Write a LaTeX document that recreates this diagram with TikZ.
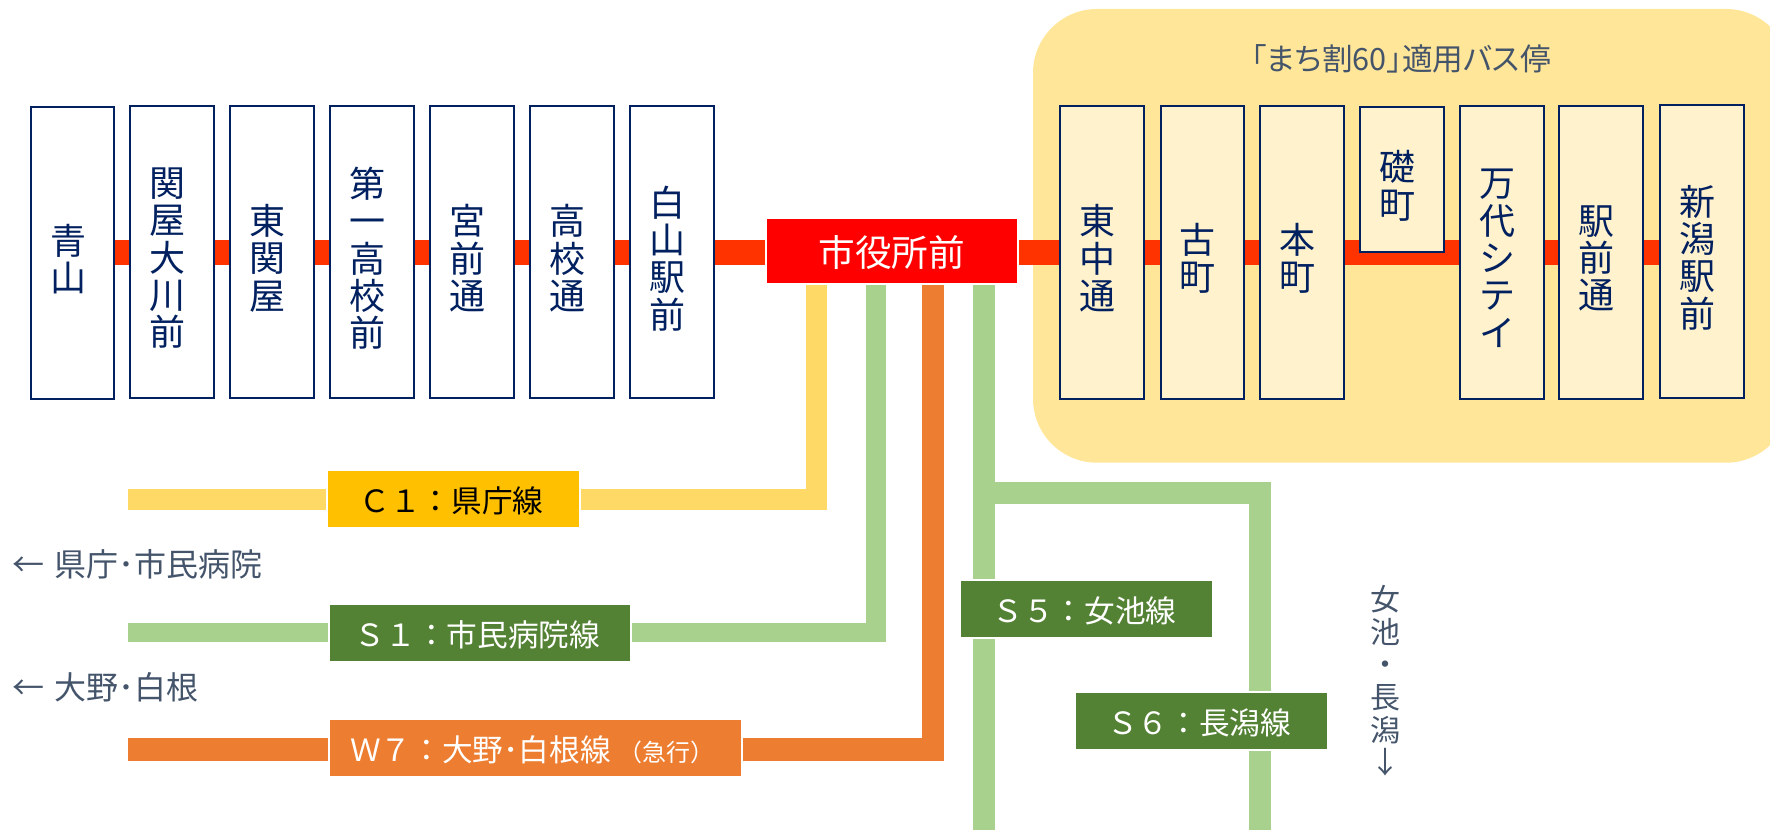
\documentclass[tikz,border=0pt]{standalone}
\usepackage{fontspec}
\newfontfamily\jpf{Noto Sans CJK JP}
\newfontfamily\jpp[RawFeature=+palt]{Noto Sans CJK JP}
\definecolor{navy}{HTML}{002060}
\definecolor{slate}{HTML}{44546A}
\definecolor{panelfill}{HTML}{FFE699}
\definecolor{stopfill}{HTML}{FFF2CC}
\definecolor{railred}{HTML}{FF3300}
\definecolor{c1light}{HTML}{FFD966}
\definecolor{c1dark}{HTML}{FFC000}
\definecolor{sgreen}{HTML}{A9D18E}
\definecolor{sdark}{HTML}{548235}
\definecolor{worange}{HTML}{ED7D31}
\pgfdeclarelayer{bg}
\pgfsetlayers{bg,main}
% vertical text: centred stack with a fixed line pitch
\newcommand\vstack[3]{\vbox{\kern#1\lineskiplimit=-100pt\baselineskip=#2\let\\=\cr\halign{\hfil##\hfil\cr#3\crcr}}}
% stations sit left of and below the centre of their box
\newcommand\vt[1]{\kern-6.75pt\vstack{9pt}{28pt}{#1}}
% label text sits a little below the centre of its box
\newcommand\lb[1]{\vbox{\kern3pt\hbox{#1}}}
\tikzset{
  stopbox/.style={draw=navy,line width=1.5pt,fill=white,inner sep=0pt,text=navy,
    minimum width=83.6*0.75pt,minimum height=292.6*0.75pt,
    font=\jpf\fontsize{27}{28}\selectfont},
  yellowstop/.style={stopbox,fill=stopfill},
  shortstop/.style={minimum height=144.5*0.75pt},
  linebox/.style={draw=white,line width=1.5pt,inner sep=0pt,minimum height=58*0.75pt,
    font=\jpf\fontsize{23}{28}\selectfont},
  sidelabel/.style={text=slate,inner sep=0pt,font=\jpf\fontsize{24}{26}\selectfont},
  rail/.style={railred,line width=18.6pt},
  c1line/.style={c1light,line width=15.5pt},
  s1line/.style={sgreen,line width=14.3pt},
  s5line/.style={sgreen,line width=16.5pt},
  w7line/.style={worange,line width=17pt}
}
\begin{document}
\begin{tikzpicture}[x=0.75pt,y=-0.75pt]
\useasboundingbox (0,0) rectangle (1770,830);
% stops, left part
\node[stopbox] (aoyama) at (72.6,253.1) {\vt{青\\山}};
\node[stopbox] (sekiya) at (171.9,252.2) {\vt{関\\屋\\大\\川\\前}};
\node[stopbox] (higashisekiya) at (271.9,252.2) {\vt{東\\関\\屋}};
\node[stopbox] (daiichi) at (371.9,252.2) {\vt{第\\一\\高\\校\\前}};
\node[stopbox] (miyamae) at (471.9,252.2) {\vt{宮\\前\\通}};
\node[stopbox] (koukou) at (571.9,252.2) {\vt{高\\校\\通}};
\node[stopbox] (hakusan) at (671.9,252.2) {\vt{白\\山\\駅\\前}};
% central stop
\node[draw=white,line width=1.5pt,fill=red,text=white,inner sep=0pt,minimum width=251.6*0.75pt,minimum height=65.2*0.75pt,font=\jpf\fontsize{27.5}{30}\selectfont] (shi) at (891.8,251.1) {\vbox{\kern1.5pt\hbox{市役所前}}};
% stops, right part
\node[yellowstop] (higashinaka) at (1102,252.4) {\vt{東\\中\\通}};
\node[yellowstop] (furu) at (1202.4,252.4) {\vt{古\\町}};
\node[yellowstop] (hon) at (1302.1,252.4) {\vt{本\\町}};
\node[yellowstop,shortstop] (iso) at (1402.2,179.7) {\vt{礎\\町}};
\node[yellowstop] (bandai) at (1501.7,252.4) {\vt{万\\代\\シ\\テ\\イ}};
\node[yellowstop] (ekimae) at (1600.9,252.4) {\vt{駅\\前\\通}};
\node[yellowstop] (niigata) at (1701.7,251.4) {\vt{新\\潟\\駅\\前}};
% line labels
\node[linebox,fill=c1dark,text=black,minimum width=253*0.75pt] (c1) at (453.5,499) {\lb{\kern-3pt Ｃ１：県庁線}};
\node[linebox,fill=sdark,text=white,minimum width=302*0.75pt] (s1) at (479.6,632.8) {\lb{\kern-3pt Ｓ１：市民病院線}};
\node[linebox,fill=worange,text=white,minimum width=413*0.75pt] (w7) at (535.2,748) {\lb{\kern-4pt Ｗ７：大野･白根線\kern6pt{\fontsize{18}{18}\selectfont（急行）}}};
\node[linebox,fill=sdark,text=white,minimum width=253*0.75pt] (s5) at (1086.4,609.2) {\lb{\kern-3pt Ｓ５：女池線}};
\node[linebox,fill=sdark,text=white,minimum width=253*0.75pt] (s6) at (1201,721.3) {\lb{\kern-3pt Ｓ６：長潟線}};
% free texts
\node[text=slate,inner sep=0pt,font=\jpp\fontsize{23}{26}\selectfont] (title) at (1401,58.5) {「まち割60」適用バス停};
\node[sidelabel,anchor=west] (kencho) at (12,564) {←\kern8pt 県庁･市民病院};
\node[sidelabel,anchor=west] (ono) at (12,687.5) {←\kern8pt 大野･白根};
\node[text=slate,inner sep=0pt,font=\jpf\fontsize{22.5}{24.5}\selectfont] (dirs) at (1385,681) {\vstack{0pt}{24.5pt}{女\\池\\・\\長\\潟\\↓}};
% free ends of the connectors
\coordinate (railref) at (0,252.5);
\coordinate (c1top) at (816.4,251);
\coordinate (c1end) at (128,499.5);
\coordinate (s1top) at (876,251);
\coordinate (s1end) at (128,632.7);
\coordinate (w7top) at (933,251);
\coordinate (w7end) at (128,749.5);
\coordinate (s5top) at (984.4,251);
\coordinate (s5end) at (984.4,830);
\coordinate (s6top) at (984.4,493);
\coordinate (s6end) at (1259.5,830);
\begin{pgfonlayer}{bg}
  \fill[panelfill,rounded corners=48pt] (1033,9) rectangle (1790,462.7);
  \draw[rail] (aoyama.center |- railref) -- (niigata.center |- railref);
  \draw[c1line] (c1top) |- (c1end);
  \draw[s1line] (s1top) |- (s1end);
  \draw[w7line] (w7top) |- (w7end);
  \draw[s5line] (s5top) -- (s5end);
  \draw[s5line] (s6top) -| (s6end);
\end{pgfonlayer}
\end{tikzpicture}
\end{document}
